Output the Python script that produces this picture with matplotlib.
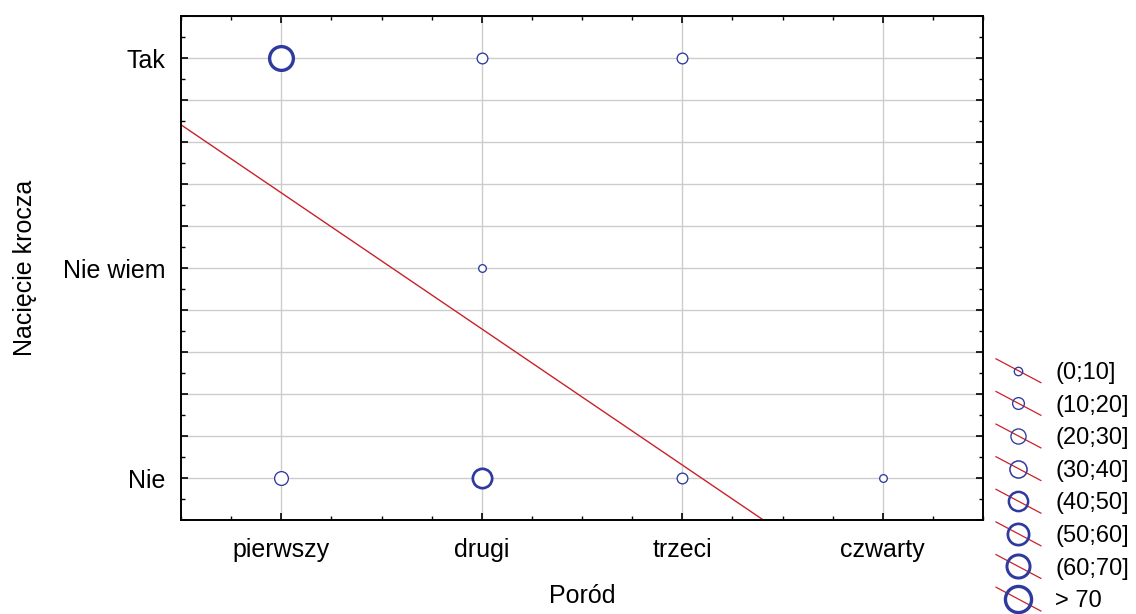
import matplotlib
matplotlib.use('Agg')
import matplotlib.pyplot as plt
from matplotlib.legend_handler import HandlerBase
from matplotlib.lines import Line2D
from matplotlib.ticker import MultipleLocator, FixedLocator, FuncFormatter

plt.rcParams['font.family'] = ['Liberation Sans', 'DejaVu Sans']

porod = ['pierwszy', 'drugi', 'trzeci', 'czwarty']
naciecie = ['Nie', 'Nie wiem', 'Tak']

# punkty: pozycja poród (1-4), naciecie (1-3), liczebnosc
pt_x = [1, 2, 3, 2, 1, 2, 3, 4]
pt_y = [3, 3, 3, 2, 1, 1, 1, 1]
pt_n = [75, 14, 12, 7, 22, 55, 16, 4]

bin_edges = [0, 10, 20, 30, 40, 50, 60, 70]
bin_labels = ['(0;10]', '(10;20]', '(20;30]', '(30;40]',
              '(40;50]', '(50;60]', '(60;70]', '> 70']

# linia regresji
reg_a = 3.006
reg_b = -0.648

BLUE = '#2e3a9e'
RED = '#c8222a'

# wielkosc markera wg klasy (w punktach)
msize = [5.5, 7.7, 9.9, 11.2, 12.6, 13.9, 15.1, 17.1]
mew = [0.95, 0.95, 0.95, 1.1, 1.8, 1.95, 2.15, 2.4]


def size_class(n):
    k = 0
    for i, e in enumerate(bin_edges):
        if n > e:
            k = i
    return k


fig = plt.figure(figsize=(11.36, 6.14), dpi=100)
ax = fig.add_axes([181 / 1136, 1 - 520 / 614, (983 - 181) / 1136, (520 - 16) / 614])

ax.set_xlim(0.5, 4.5)
ax.set_ylim(0.8, 3.2)

# regresja
xs = [0.5, 4.5]
ax.plot(xs, [reg_a + reg_b * x for x in xs], color=RED, lw=1.0, zorder=2)

for x, y, n in zip(pt_x, pt_y, pt_n):
    k = size_class(n)
    ax.plot([x], [y], marker='o', ls='none', ms=msize[k], mfc='white',
            mec=BLUE, mew=mew[k], zorder=3)

# osie
ax.xaxis.set_major_locator(FixedLocator([1, 2, 3, 4]))
ax.xaxis.set_major_formatter(FuncFormatter(lambda v, p: porod[int(round(v)) - 1]))
ax.xaxis.set_minor_locator(MultipleLocator(0.25))
ax.yaxis.set_major_locator(MultipleLocator(0.2))
ax.yaxis.set_minor_locator(MultipleLocator(0.1))


def ylab(v, p):
    if abs(v - round(v)) < 1e-6 and 1 <= round(v) <= 3:
        return naciecie[int(round(v)) - 1]
    return ''


ax.yaxis.set_major_formatter(FuncFormatter(ylab))

ax.grid(True, which='major', color='#cccccc', lw=1.0, zorder=0)
ax.tick_params(which='both', direction='in', top=True, right=True,
               labelsize=18, colors='black')
ax.tick_params(which='major', length=5, width=1.2)
ax.tick_params(axis='x', which='major', pad=13)
ax.tick_params(axis='y', which='major', pad=11)
ax.tick_params(which='minor', length=3, width=1.0)
for s in ax.spines.values():
    s.set_linewidth(1.4)

ax.set_xlabel('Poród', fontsize=18, labelpad=16)
ax.set_ylabel('Nacięcie krocza', fontsize=18, labelpad=19)


class DiagHandler(HandlerBase):
    def create_artists(self, legend, orig_handle, xdescent, ydescent,
                       width, height, fontsize, trans):
        x0, y0 = -xdescent, -ydescent
        ln = Line2D([x0, x0 + width], [y0 + height * 1.22, y0 - height * 0.22],
                    color=RED, lw=0.9, transform=trans)
        mk = Line2D([x0 + width * 0.49], [y0 + height * 0.5], marker='o',
                    ls='none', ms=orig_handle.get_markersize() * 1.1, mfc='none',
                    mec=BLUE, mew=orig_handle.get_markeredgewidth(),
                    transform=trans)
        return [ln, mk]


handles = [Line2D([], [], marker='o', ms=msize[k], mew=mew[k]) for k in range(len(bin_labels))]
fig.legend(handles, bin_labels, loc='upper left', bbox_to_anchor=(996 / 1136, 1 - 362 / 614),
           frameon=False, fontsize=17, handlelength=1.9, handletextpad=0.6,
           labelspacing=0.45, borderaxespad=0, borderpad=0,
           handler_map={Line2D: DiagHandler()})

fig.savefig('out.png', dpi=100)
